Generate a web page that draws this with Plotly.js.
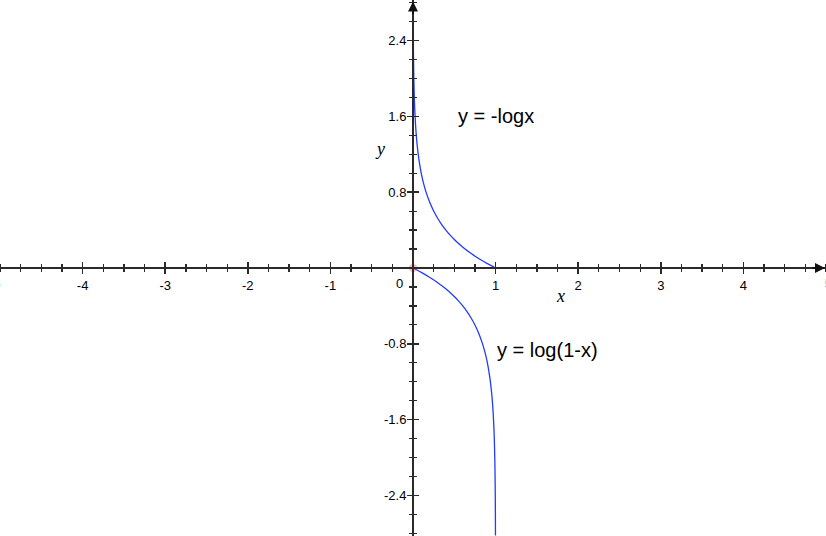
<!DOCTYPE html>
<html>
<head>
<meta charset="utf-8">
<script src="https://cdn.plot.ly/plotly-3.0.1.min.js"></script>
<style>html,body{margin:0;padding:0;background:#fff;}#chart{width:826px;height:536px;}</style>
</head>
<body>
<div id="chart"></div>
<script>
// y = -log x
const xNegLog = [0.0015, 0.002, 0.003, 0.005, 0.0075, 0.01, 0.015, 0.02, 0.03, 0.04, 0.05, 0.07, 0.1, 0.13, 0.16, 0.2, 0.25, 0.3, 0.35, 0.4, 0.45, 0.5, 0.6, 0.7, 0.8, 0.9, 1.0];
const yNegLog = [2.824, 2.699, 2.523, 2.301, 2.125, 2.0, 1.824, 1.699, 1.523, 1.398, 1.301, 1.155, 1.0, 0.886, 0.796, 0.699, 0.602, 0.523, 0.456, 0.398, 0.347, 0.301, 0.222, 0.155, 0.097, 0.046, 0.0];
// y = log(1-x)
const xLog1m = [0.0, 0.1, 0.2, 0.3, 0.4, 0.5, 0.55, 0.6, 0.65, 0.7, 0.75, 0.8, 0.84, 0.87, 0.9, 0.93, 0.95, 0.96, 0.97, 0.98, 0.985, 0.99, 0.9925, 0.995, 0.997, 0.998, 0.9985];
const yLog1m = [0.0, -0.046, -0.097, -0.155, -0.222, -0.301, -0.347, -0.398, -0.456, -0.523, -0.602, -0.699, -0.796, -0.886, -1.0, -1.155, -1.301, -1.398, -1.523, -1.699, -1.824, -2.0, -2.125, -2.301, -2.523, -2.699, -2.824];
// ticks
const xTickVals = [-4, -3, -2, -1, 1, 2, 3, 4];
const xTickText = ['-4', '-3', '-2', '-1', '1', '2', '3', '4'];
const xEdgeText = ['-5', '5'];
const yTickVals = [-2.4, -1.6, -0.8, 0.8, 1.6, 2.4];
const yTickText = ['-2.4', '-1.6', '-0.8', '0.8', '1.6', '2.4'];
const originX = [0];
const originY = [0];
const labelNegLog = 'y = -logx';
const labelLog1m = 'y = log(1-x)';

const XR = [-5, 5];
const YR = [-2.83, 2.83];
const curveColor = '#1f3cff';
const axColor = '#2a2a2a';
const tickFont = {family: 'Liberation Sans, Arial, sans-serif', size: 13, color: '#000'};
const textFont = {family: 'Liberation Sans, Arial, sans-serif', size: 20, color: '#000'};
const varFont = {family: 'Liberation Serif, Times New Roman, serif', size: 18, color: '#000'};

const traces = [
  {x: xNegLog, y: yNegLog, mode: 'lines', line: {color: curveColor, width: 1.3, shape: 'spline', smoothing: 0.6}, hoverinfo: 'skip'},
  {x: xLog1m, y: yLog1m, mode: 'lines', line: {color: curveColor, width: 1.3, shape: 'spline', smoothing: 0.6}, hoverinfo: 'skip'},
  {x: originX, y: originY, mode: 'markers', marker: {color: 'rgba(255,60,60,0.35)', size: 8}, hoverinfo: 'skip'},
  {x: originX, y: originY, xaxis: 'x2', yaxis: 'y2', mode: 'markers', marker: {opacity: 0}, hoverinfo: 'skip'}
];

const commonX = {range: XR, fixedrange: true, showgrid: false, zeroline: false, anchor: 'free', position: 0.5,
  showline: true, linecolor: axColor, linewidth: 2, tickcolor: axColor, tickwidth: 1.5, ticklen: 5,
  tickmode: 'array', tickvals: xTickVals, ticktext: xTickText,
  minor: {tickmode: 'linear', tick0: 0, dtick: 0.25, ticks: 'outside', ticklen: 3, tickcolor: axColor, tickwidth: 1.3, showgrid: false}};
const commonY = {range: YR, fixedrange: true, showgrid: false, zeroline: false, anchor: 'free', position: 0.5,
  showline: true, linecolor: axColor, linewidth: 2, tickcolor: axColor, tickwidth: 1.5, ticklen: 5,
  tickmode: 'array', tickvals: yTickVals, ticktext: yTickText,
  minor: {tickmode: 'linear', tick0: 0, dtick: 0.2, ticks: 'outside', ticklen: 3, tickcolor: axColor, tickwidth: 1.3, showgrid: false}};

const layout = {
  width: 826, height: 536,
  margin: {l: 0, r: 0, t: 0, b: 0, pad: 0},
  paper_bgcolor: '#fff', plot_bgcolor: '#fff',
  showlegend: false,
  xaxis: Object.assign({}, commonX, {side: 'bottom', ticks: 'outside', showticklabels: true, tickfont: tickFont}),
  xaxis2: Object.assign({}, commonX, {side: 'top', ticks: 'outside', showticklabels: false, overlaying: 'x'}),
  yaxis: Object.assign({}, commonY, {side: 'left', ticks: 'outside', showticklabels: true, tickfont: tickFont, ticklabelstandoff: -2}),
  yaxis2: Object.assign({}, commonY, {side: 'right', ticks: 'outside', showticklabels: false, overlaying: 'y'}),
  annotations: [
    {xref: 'x', yref: 'y', x: -0.16, y: 0, yshift: -15, text: '0', showarrow: false, font: tickFont},
    {xref: 'paper', yref: 'y', x: 0.0036, xanchor: 'right', y: 0, yshift: -15, text: xEdgeText[0], showarrow: false, font: tickFont},
    {xref: 'paper', yref: 'y', x: 0.996, xanchor: 'left', y: 0, yshift: -15, text: xEdgeText[1], showarrow: false, font: tickFont},
    {xref: 'x', yref: 'y', x: 1.005, y: 1.6, text: labelNegLog, showarrow: false, font: textFont},
    {xref: 'x', yref: 'y', x: 1.633, y: -0.866, text: labelLog1m, showarrow: false, font: textFont},
    {xref: 'x', yref: 'y', x: 1.78, y: -0.3, text: '<i>x</i>', showarrow: false, font: varFont},
    {xref: 'x', yref: 'y', x: -0.405, y: 1.257, text: '<i>y</i>', showarrow: false, font: varFont},
    {xref: 'paper', yref: 'y', x: 0.999, y: 0, ax: -14, ay: 0, text: '', showarrow: true,
     arrowhead: 2, arrowsize: 1.0, arrowwidth: 2, arrowcolor: '#111'},
    {xref: 'x', yref: 'paper', x: 0, y: 0.997, ax: 0, ay: 14, text: '', showarrow: true,
     arrowhead: 2, arrowsize: 1.0, arrowwidth: 2, arrowcolor: '#111'}
  ]
};

Plotly.newPlot('chart', traces, layout, {staticPlot: true, displayModeBar: false});
</script>
</body>
</html>
